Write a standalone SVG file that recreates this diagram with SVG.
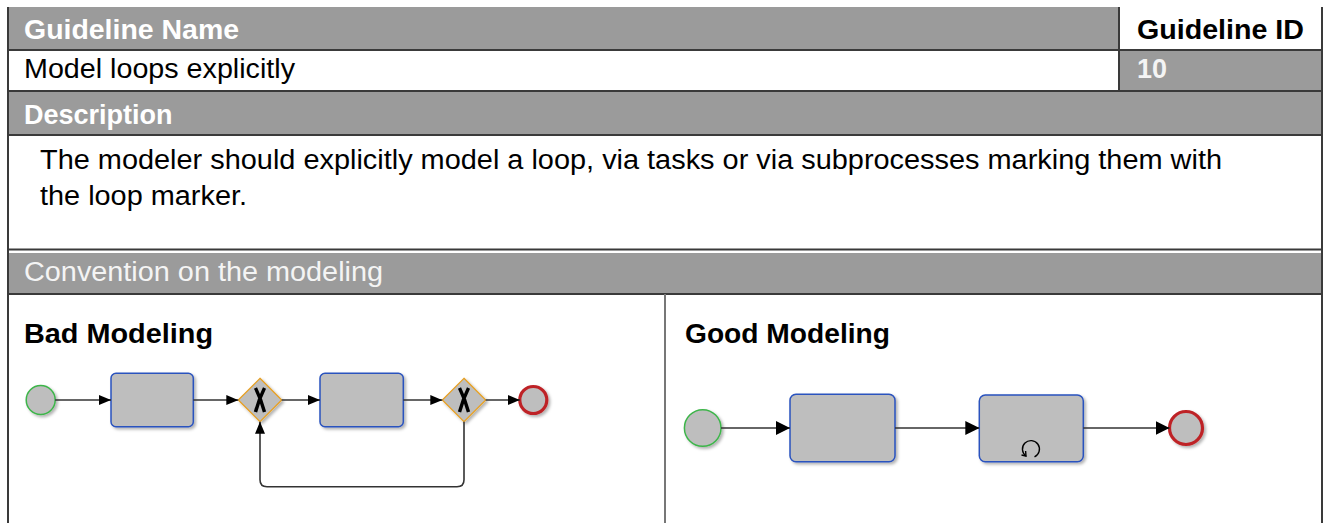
<svg xmlns="http://www.w3.org/2000/svg" width="1324" height="523" viewBox="0 0 1324 523">
  <style>
    text { font-family: "Liberation Sans", Arial, Helvetica, sans-serif; font-size: 27px; }
    .b { font-weight: bold; }
    .hdr { fill: #9b9b9b; }
    .rule { stroke: #3a3a3a; stroke-width: 2; fill: none; }
    .task { fill: #bebebe; stroke: #2a52be; stroke-width: 1.5; filter: url(#shadow); }
    .gw { fill: #bebebe; stroke: #e8a023; stroke-width: 1.3; filter: url(#shadow); }
    .gwx { stroke: #000; stroke-width: 3.4; fill: none; stroke-linecap: butt; }
    .start { fill: #bebebe; stroke: #3db54a; stroke-width: 1.5; filter: url(#shadow); }
    .end { fill: #bebebe; stroke: #be2327; stroke-width: 3.2; filter: url(#shadow); }
    .flow { stroke: #333; stroke-width: 1.6; fill: none; }
  </style>
  <defs>
    <filter id="shadow" x="-20%" y="-20%" width="150%" height="150%">
      <feDropShadow dx="2" dy="2" stdDeviation="1.5" flood-color="#000" flood-opacity="0.3"/>
    </filter>
    <marker id="arr" markerUnits="userSpaceOnUse" markerWidth="12" markerHeight="10" refX="12" refY="5" orient="auto">
      <path d="M0,0 L12,5 L0,10 z" fill="#000"/>
    </marker>
    <marker id="arrL" markerUnits="userSpaceOnUse" markerWidth="14" markerHeight="14" refX="14" refY="7" orient="auto">
      <path d="M0,0 L14,7 L0,14 z" fill="#000"/>
    </marker>
  </defs>

  <!-- table -->
  <g id="table">
    <rect x="8" y="7" width="1111" height="43" class="hdr"/>
    <rect x="1119" y="7" width="203" height="43" fill="#fff"/>
    <rect x="8" y="50" width="1111" height="41" fill="#fff"/>
    <rect x="1119" y="50" width="203" height="41" class="hdr"/>
    <rect x="8" y="91" width="1314" height="44" class="hdr"/>
    <rect x="8" y="253" width="1314" height="41" class="hdr"/>

    <line x1="8" y1="50" x2="1322" y2="50" class="rule"/>
    <line x1="8" y1="91" x2="1322" y2="91" class="rule"/>
    <line x1="8" y1="135" x2="1322" y2="135" class="rule"/>
    <line x1="8" y1="249.5" x2="1322" y2="249.5" class="rule" stroke="#555"/>
    <line x1="8" y1="294" x2="1322" y2="294" class="rule"/>
    <line x1="1119" y1="7" x2="1119" y2="91" class="rule" stroke-width="1.5"/>
    <line x1="8" y1="7" x2="8" y2="523" class="rule"/>
    <line x1="1322" y1="7" x2="1322" y2="523" class="rule" stroke-width="1.5"/>
    <line x1="665" y1="294" x2="665" y2="523" stroke="#777" stroke-width="2"/>

    <text x="24" y="39" class="b" fill="#fff" textLength="215" lengthAdjust="spacingAndGlyphs">Guideline Name</text>
    <text x="1137" y="39" class="b" fill="#000" textLength="167" lengthAdjust="spacingAndGlyphs">Guideline ID</text>
    <text x="24" y="78" fill="#000" textLength="271" lengthAdjust="spacingAndGlyphs">Model loops explicitly</text>
    <text x="1137" y="78" class="b" fill="#f4f4f4">10</text>
    <text x="24" y="124" class="b" fill="#fff">Description</text>
    <text x="40" y="169" fill="#000" textLength="1182" lengthAdjust="spacingAndGlyphs">The modeler should explicitly model a loop, via tasks or via subprocesses marking them with</text>
    <text x="40" y="205" fill="#000" textLength="207" lengthAdjust="spacingAndGlyphs">the loop marker.</text>
    <text x="24" y="281" fill="#f4f4f4" textLength="359" lengthAdjust="spacingAndGlyphs">Convention on the modeling</text>
    <text x="24" y="343" class="b" fill="#000" textLength="189" lengthAdjust="spacingAndGlyphs">Bad Modeling</text>
    <text x="685" y="343" class="b" fill="#000" textLength="205" lengthAdjust="spacingAndGlyphs">Good Modeling</text>
  </g>

  <!-- bad modeling process -->
  <g id="bad-start"><circle cx="40.7" cy="400" r="14.5" class="start"/></g>
  <g id="bad-task1"><rect x="111" y="373.3" width="82.3" height="53.4" rx="5" class="task"/></g>
  <g id="bad-gw1">
    <path d="M260,378.3 L281.7,400 L260,421.7 L238.3,400 z" class="gw"/>
    <path d="M255.5,388 Q261,399 264.5,412 M264.5,388 Q259,399 255.5,412" class="gwx"/>
  </g>
  <g id="bad-task2"><rect x="320" y="373.3" width="83.3" height="53.4" rx="5" class="task"/></g>
  <g id="bad-gw2">
    <path d="M464,378.3 L485.7,400 L464,421.7 L442.3,400 z" class="gw"/>
    <path d="M459.5,388 Q465,399 468.5,412 M468.5,388 Q463,399 459.5,412" class="gwx"/>
  </g>
  <g id="bad-end"><circle cx="533.3" cy="400" r="13.5" class="end"/></g>

  <!-- good modeling process -->
  <g id="good-start"><circle cx="702.7" cy="428" r="18.3" class="start"/></g>
  <g id="good-task"><rect x="790" y="394.3" width="105" height="67.4" rx="6" class="task"/></g>
  <g id="good-loop-task">
    <rect x="979.3" y="395" width="104" height="66.7" rx="6" class="task"/>
    <!-- standard loop marker: open circle with arrow tip -->
    <path d="M1026,456 A8.5,8.5 0 1 1 1034.5,456.8" stroke="#000" stroke-width="1.4" fill="none"/>
    <path d="M1021.5,455 L1026,456 L1025.6,451" stroke="#000" stroke-width="1.4" fill="none"/>
  </g>
  <g id="good-end"><circle cx="1186" cy="428" r="16.5" class="end" stroke-width="3.6"/></g>

  <!-- connectors -->
  <g id="connectors">
    <path d="M55.2,400 H111" class="flow" marker-end="url(#arr)"/>
    <path d="M193.3,400 H238.3" class="flow" marker-end="url(#arr)"/>
    <path d="M281.7,400 H320" class="flow" marker-end="url(#arr)"/>
    <path d="M403.3,400 H442.3" class="flow" marker-end="url(#arr)"/>
    <path d="M485.7,400 H519.8" class="flow" marker-end="url(#arr)"/>
    <path d="M464,421.7 V479.7 Q464,486.7 457,486.7 H267 Q260,486.7 260,479.7 V421.7" class="flow" stroke="#555" marker-end="url(#arr)"/>
    <path d="M721,428 H790" class="flow" marker-end="url(#arrL)"/>
    <path d="M895,428 H979.3" class="flow" marker-end="url(#arrL)"/>
    <path d="M1083.3,428 H1169.5" class="flow" marker-end="url(#arrL)"/>
  </g>
</svg>
